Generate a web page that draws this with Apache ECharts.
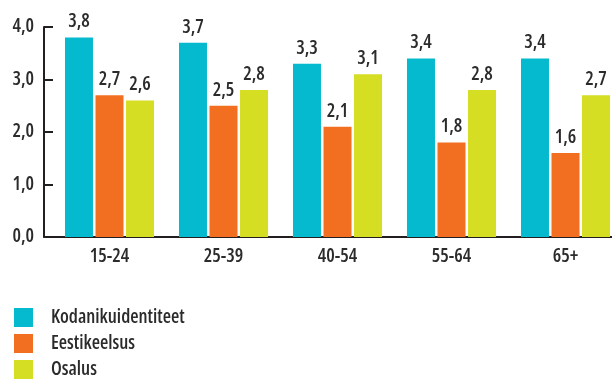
<!DOCTYPE html>
<html>
<head>
<meta charset="utf-8">
<script src="https://cdn.jsdelivr.net/npm/echarts@6/dist/echarts.min.js"></script>
<style>
  html, body { margin: 0; padding: 0; background: #fff; }
  #main { width: 612px; height: 379px; }
</style>
</head>
<body>
<div id="main"></div>
<script>
const categories = ['15-24', '25-39', '40-54', '55-64', '65+']
const names = ['Kodanikuidentiteet', 'Eestikeelsus', 'Osalus']
const kodanik = [3.8, 3.7, 3.3, 3.4, 3.4]
const eesti = [2.7, 2.5, 2.1, 1.8, 1.6]
const osalus = [2.6, 2.8, 3.1, 2.8, 2.7]
const yTicks = [0, 1, 2, 3, 4]

// Open Sans has a width axis, 'condensed' is slipped into the canvas font string via fontWeight
const font = "'Open Sans', 'DejaVu Sans Condensed', sans-serif"
const weight = '600 condensed'
const ink = '#2b2b2b'
const colors = ['#05b9ce', '#f26f21', '#d6de23']
const gridLeft = 52.5

const myChart = echarts.init(document.getElementById('main'))
const values = [kodanik, eesti, osalus]
const fmt = v => Number(v).toFixed(1).replace('.', ',')

const series = names.map((name, i) => ({
  name: name,
  type: 'bar',
  barWidth: 28,
  barGap: '9%',
  itemStyle: { color: colors[i] },
  label: {
    show: true,
    position: 'top',
    distance: 6,
    color: ink,
    fontFamily: font,
    fontWeight: weight,
    fontSize: 19,
    formatter: p => fmt(p.value)
  },
  data: values[i]
}))

const option = {
  animation: false,
  grid: {
    left: gridLeft,
    width: 570,
    top: 27,
    bottom: 142,
    outerBoundsMode: 'none'
  },
  legend: {
    orient: 'vertical',
    left: 14,
    top: 308,
    padding: 0,
    icon: 'rect',
    itemWidth: 19,
    itemHeight: 19,
    itemGap: 7,
    textStyle: {
      color: ink,
      fontFamily: font,
      fontWeight: weight,
      fontSize: 19,
      padding: [0, 0, 0, 13]
    },
    data: names
  },
  xAxis: {
    type: 'category',
    data: categories,
    axisLine: { lineStyle: { color: '#231f20', width: 2 } },
    axisTick: {
      inside: true,
      length: 4,
      lineStyle: { color: '#231f20', width: 2 },
      interval: (index) => index !== 0
    },
    axisLabel: {
      color: ink,
      fontFamily: font,
      fontWeight: weight,
      fontSize: 19,
      margin: 10
    }
  },
  yAxis: {
    type: 'value',
    min: yTicks[0],
    max: yTicks[yTicks.length - 1],
    interval: 1,
    offset: 8.5,
    axisLine: { show: true, lineStyle: { color: '#231f20', width: 2 } },
    axisTick: {
      show: true,
      inside: true,
      length: 9,
      lineStyle: { color: '#231f20', width: 2 }
    },
    splitLine: { show: false },
    axisLabel: {
      color: ink,
      fontFamily: font,
      fontWeight: weight,
      fontSize: 19,
      margin: 10,
      formatter: v => fmt(v)
    }
  },
  series: series
}
myChart.setOption(option)

// extend the x axis line to meet the offset y axis
const y0 = myChart.convertToPixel({ yAxisIndex: 0 }, 0)
myChart.setOption({
  graphic: [{
    type: 'line',
    shape: { x1: gridLeft - 9, y1: y0, x2: gridLeft, y2: y0 },
    style: { stroke: '#231f20', lineWidth: 2 }
  }]
})
</script>
</body>
</html>
